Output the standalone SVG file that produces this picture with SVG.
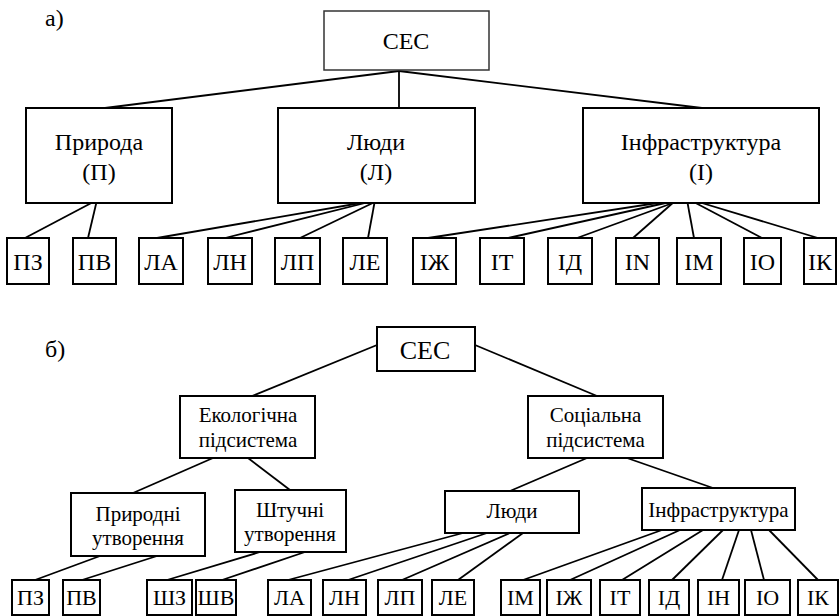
<svg xmlns="http://www.w3.org/2000/svg" width="839" height="616" viewBox="0 0 839 616">
<style>
rect{fill:#fff;stroke:#000;stroke-width:2}
rect.top{stroke:#333;stroke-width:1.5}
text{font-family:"Times New Roman",Times,Tinos,"Noto Serif","FreeSerif","Liberation Serif","DejaVu Serif",serif;fill:#000;text-anchor:middle}
.a{font-size:24px}
.al{font-size:24px}
.b{font-size:21px}
.bl{font-size:22px}
.lbl{font-size:24px;text-anchor:start}
#connectors line{stroke:#000;stroke-width:1.8}
</style>
<rect x="0" y="0" width="839" height="616" style="fill:#fff;stroke:none"/>
<text class="lbl" x="45" y="26">а)</text>
<text class="lbl" x="45" y="357">б)</text>
<g id="connectors">
<line x1="399" y1="71" x2="105" y2="108"/>
<line x1="399" y1="71" x2="399" y2="108"/>
<line x1="399" y1="71" x2="702" y2="108"/>
<line x1="97" y1="200" x2="25" y2="238"/>
<line x1="97" y1="200" x2="88" y2="238"/>
<line x1="384" y1="199" x2="157" y2="238"/>
<line x1="381" y1="199" x2="225" y2="238"/>
<line x1="379" y1="200" x2="300" y2="238"/>
<line x1="375" y1="200" x2="368" y2="238"/>
<line x1="677" y1="200" x2="428" y2="238"/>
<line x1="679" y1="200" x2="508" y2="238"/>
<line x1="681" y1="200" x2="577" y2="238"/>
<line x1="675" y1="201" x2="633" y2="238"/>
<line x1="687" y1="200" x2="694" y2="238"/>
<line x1="690" y1="200" x2="762" y2="238"/>
<line x1="692" y1="200" x2="818" y2="238"/>
<line x1="377" y1="345" x2="252" y2="396"/>
<line x1="475" y1="345" x2="597" y2="396"/>
<line x1="213" y1="458" x2="133" y2="493"/>
<line x1="248" y1="458" x2="290" y2="490"/>
<line x1="587" y1="458" x2="510" y2="491"/>
<line x1="627" y1="458" x2="713" y2="488"/>
<line x1="100" y1="556" x2="35" y2="580"/>
<line x1="157" y1="556" x2="82" y2="580"/>
<line x1="260" y1="552" x2="167" y2="580"/>
<line x1="305" y1="552" x2="222" y2="580"/>
<line x1="463" y1="533" x2="288" y2="580"/>
<line x1="487" y1="533" x2="348" y2="580"/>
<line x1="510" y1="533" x2="402" y2="580"/>
<line x1="523" y1="533" x2="458" y2="580"/>
<line x1="662" y1="530" x2="523" y2="580"/>
<line x1="680" y1="530" x2="570" y2="580"/>
<line x1="703" y1="530" x2="622" y2="580"/>
<line x1="723" y1="530" x2="672" y2="580"/>
<line x1="739" y1="530" x2="722" y2="580"/>
<line x1="751" y1="530" x2="764" y2="580"/>
<line x1="769" y1="530" x2="818" y2="580"/>
</g>
<g id="a-ces"><rect class="top" x="324" y="11" width="165" height="59"/><text class="a" x="406" y="49">СЕС</text></g>
<g id="a-pryroda"><rect x="26" y="108" width="146" height="95"/><text class="a" x="99" y="150">Природа</text><text class="a" x="99" y="180">(П)</text></g>
<g id="a-liudy"><rect x="278" y="108" width="197" height="95"/><text class="a" x="376" y="150">Люди</text><text class="a" x="376" y="180">(Л)</text></g>
<g id="a-infra"><rect x="583" y="108" width="236" height="95"/><text class="a" x="701" y="150">Інфраструктура</text><text class="a" x="701" y="180">(І)</text></g>
<g id="a-pz"><rect x="7" y="238" width="42" height="46"/><text class="al" x="28" y="270">ПЗ</text></g>
<g id="a-pv"><rect x="73" y="238" width="43" height="46"/><text class="al" x="94.5" y="270">ПВ</text></g>
<g id="a-la"><rect x="139" y="238" width="44" height="46"/><text class="al" x="161" y="270">ЛА</text></g>
<g id="a-ln"><rect x="208" y="238" width="44" height="46"/><text class="al" x="230" y="270">ЛН</text></g>
<g id="a-lp"><rect x="275" y="238" width="45" height="46"/><text class="al" x="297.5" y="270">ЛП</text></g>
<g id="a-le"><rect x="343" y="238" width="44" height="46"/><text class="al" x="365" y="270">ЛЕ</text></g>
<g id="a-izh"><rect x="413" y="238" width="43" height="46"/><text class="al" x="434.5" y="270">ІЖ</text></g>
<g id="a-it"><rect x="480" y="238" width="44" height="46"/><text class="al" x="502" y="270">ІТ</text></g>
<g id="a-id"><rect x="548" y="238" width="44" height="46"/><text class="al" x="570" y="270">ІД</text></g>
<g id="a-in"><rect x="616" y="238" width="43" height="46"/><text class="al" x="637.5" y="270">IN</text></g>
<g id="a-im"><rect x="677" y="238" width="44" height="46"/><text class="al" x="699" y="270">IM</text></g>
<g id="a-io"><rect x="744" y="238" width="37" height="46"/><text class="al" x="762.5" y="270">IO</text></g>
<g id="a-ik"><rect x="804" y="238" width="32" height="46"/><text class="al" x="820" y="270">ІК</text></g>
<g id="b-ces"><rect x="377" y="327" width="98" height="44"/><text style="font-size:26px" x="425" y="359">СЕС</text></g>
<g id="b-eco"><rect x="180" y="396" width="135" height="62"/><text class="b" x="248" y="422">Екологічна</text><text class="b" x="248" y="447">підсистема</text></g>
<g id="b-soc"><rect x="528" y="396" width="135" height="62"/><text class="b" x="595.5" y="422">Соціальна</text><text class="b" x="595.5" y="447">підсистема</text></g>
<g id="b-pryrodni"><rect x="71" y="493" width="134" height="63"/><text class="b" x="138" y="521">Природні</text><text class="b" x="138" y="545">утворення</text></g>
<g id="b-shtuchni"><rect x="235" y="490" width="111" height="62"/><text class="b" x="290" y="517">Штучні</text><text class="b" x="290" y="541">утворення</text></g>
<g id="b-liudy"><rect x="445" y="491" width="134" height="42"/><text class="b" x="512" y="518">Люди</text></g>
<g id="b-infra"><rect x="642" y="488" width="153" height="42"/><text class="b" x="718.5" y="517">Інфраструктура</text></g>
<g id="b-pz"><rect x="12" y="580" width="37" height="35"/><text class="bl" x="30.5" y="605">ПЗ</text></g>
<g id="b-pv"><rect x="63" y="580" width="37" height="35"/><text class="bl" x="81.5" y="605">ПВ</text></g>
<g id="b-shz"><rect x="147" y="580" width="45" height="35"/><text class="bl" x="169.5" y="605">ШЗ</text></g>
<g id="b-shv"><rect x="196" y="580" width="40" height="35"/><text class="bl" x="216" y="605">ШВ</text></g>
<g id="b-la"><rect x="268" y="580" width="43" height="35"/><text class="bl" x="289.5" y="605">ЛА</text></g>
<g id="b-ln"><rect x="323" y="580" width="43" height="35"/><text class="bl" x="344.5" y="605">ЛН</text></g>
<g id="b-lp"><rect x="378" y="580" width="44" height="35"/><text class="bl" x="400" y="605">ЛП</text></g>
<g id="b-le"><rect x="432" y="580" width="42" height="35"/><text class="bl" x="453" y="605">ЛЕ</text></g>
<g id="b-im"><rect x="501" y="580" width="39" height="35"/><text class="bl" x="520.5" y="605">IM</text></g>
<g id="b-izh"><rect x="547" y="580" width="44" height="35"/><text class="bl" x="569" y="605">ІЖ</text></g>
<g id="b-it"><rect x="600" y="580" width="40" height="35"/><text class="bl" x="620" y="605">ІТ</text></g>
<g id="b-id"><rect x="649" y="580" width="40" height="35"/><text class="bl" x="669" y="605">ІД</text></g>
<g id="b-ih"><rect x="698" y="580" width="41" height="35"/><text class="bl" x="718.5" y="605">ІН</text></g>
<g id="b-io"><rect x="745" y="580" width="45" height="35"/><text class="bl" x="767.5" y="605">ІО</text></g>
<g id="b-ik"><rect x="798" y="580" width="40" height="35"/><text class="bl" x="818" y="605">ІК</text></g>
</svg>
